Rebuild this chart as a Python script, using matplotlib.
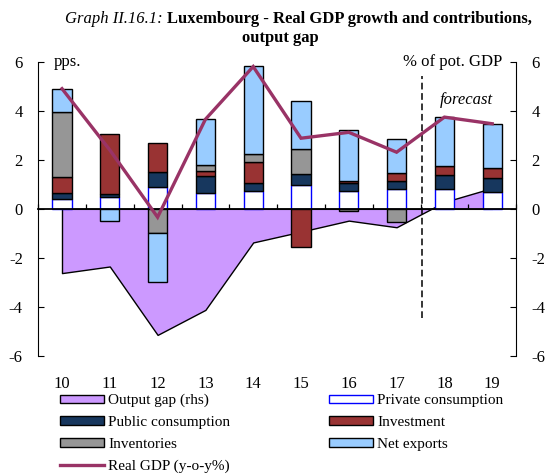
import matplotlib
matplotlib.use("Agg")
import matplotlib.pyplot as plt
import numpy as np
from matplotlib.patches import Patch
from matplotlib.lines import Line2D
from matplotlib.transforms import IdentityTransform, blended_transform_factory

plt.rcParams["font.family"] = ["Liberation Serif", "DejaVu Serif"]
plt.rcParams["axes.unicode_minus"] = False

# Contributions to real GDP growth (pps.) and output gap (% of potential GDP)
years = ["10", "11", "12", "13", "14", "15", "16", "17", "18", "19"]
private_consumption = [0.39, 0.48, 0.91, 0.64, 0.72, 0.98, 0.71, 0.80, 0.80, 0.68]
public_consumption = [0.25, 0.13, 0.59, 0.68, 0.35, 0.45, 0.34, 0.33, 0.56, 0.57]
investment = [0.65, 2.46, 1.18, 0.24, 0.83, -1.54, 0.09, 0.33, 0.38, 0.41]
inventories = [2.64, 0.0, -0.98, 0.22, 0.33, 1.02, -0.07, -0.54, 0.0, 0.0]
net_exports = [0.97, -0.50, -2.02, 1.89, 3.58, 1.96, 2.06, 1.40, 2.00, 1.81]
real_gdp = [4.90, 2.40, -0.34, 3.65, 5.80, 2.88, 3.12, 2.31, 3.74, 3.47]
output_gap = [-2.62, -2.35, -5.14, -4.12, -1.37, -0.93, -0.48, -0.75, 0.28, 0.85]
y_ticks = [-6, -4, -2, 0, 2, 4, 6]
forecast_start = 7.53

W, H = 550, 474
fig = plt.figure(figsize=(W / 100, H / 100), dpi=100)
ax = fig.add_axes([38.1 / W, 1 - 356 / H, 478 / W, 294.3 / H])

x = np.arange(len(years))

# Output gap area (right-hand scale shares the same range)
ax.fill_between(x, output_gap, 0, facecolor="#CC99FF", edgecolor="black",
                linewidth=1.0, zorder=1)

components = [
    (private_consumption, "white", "#0000FF", "Private consumption"),
    (public_consumption, "#17375E", "black", "Public consumption"),
    (investment, "#993333", "black", "Investment"),
    (inventories, "#969696", "black", "Inventories"),
    (net_exports, "#99CCFF", "black", "Net exports"),
]
pos_base = np.zeros(len(x))
neg_base = np.zeros(len(x))
for vals, fc, ec, _ in components:
    v = np.asarray(vals, dtype=float)
    base = np.where(v >= 0, pos_base, neg_base)
    keep = v != 0
    ax.bar(x[keep], v[keep], width=0.4, bottom=base[keep], color=fc,
           edgecolor=ec, linewidth=1.0, zorder=2)
    pos_base += np.clip(v, 0, None)
    neg_base += np.clip(v, None, 0)

ax.plot(x, real_gdp, color="#993366", linewidth=2.4, zorder=4,
        solid_joinstyle="miter")
ax.plot([forecast_start, forecast_start], [-4.45, 5.4], color="black",
        linewidth=1.1, dashes=(4.4, 2.4), zorder=3)

ax.set_xlim(-0.5, 9.5)
ax.set_ylim(-6, 6)

# Horizontal axis runs along zero, with ticks between the years
ax.spines["bottom"].set_position(("data", 0))
ax.spines["bottom"].set_linewidth(1.3)
ax.spines["bottom"].set_zorder(3)
ax.set_xticks(np.arange(len(x) + 1) - 0.5)
ax.set_xticklabels([])
ax.tick_params(axis="x", direction="in", length=3.6, width=0.9)
ax.xaxis.set_zorder(3.5)
lab_tr = blended_transform_factory(ax.transData, ax.transAxes)
for xi, yr in zip(x, years):
    ax.text(xi, -0.068, yr, transform=lab_tr, ha="center", va="top",
            fontsize=12)

ax.set_yticks(y_ticks)
ax.tick_params(axis="y", direction="in", length=4, pad=11, labelsize=12,
               width=0.8)
for s in ["top", "right"]:
    ax.spines[s].set_visible(False)
ax.spines["left"].set_linewidth(0.8)

ax2 = ax.twinx()
ax2.set_ylim(-6, 6)
ax2.set_yticks(y_ticks)
ax2.tick_params(axis="y", direction="in", length=4, pad=11, labelsize=12,
                width=0.8)
for s in ["top", "bottom", "left"]:
    ax2.spines[s].set_visible(False)
ax2.spines["right"].set_linewidth(0.8)

ax.text(0.032, 1.025, "pps.", transform=ax.transAxes, ha="left", va="top",
        fontsize=12)
ax.text(0.972, 1.025, "% of pot. GDP", transform=ax.transAxes, ha="right",
        va="top", fontsize=12)
ax.text(8.45, 4.45, "forecast", ha="center", va="center", fontsize=12,
        style="italic")

# Title: italic label followed by bold heading
ident = IdentityTransform()
renderer = fig.canvas.get_renderer()
t1 = fig.text(65, H - 23, "Graph II.16.1: ", transform=ident, fontsize=12,
              style="italic", va="baseline", ha="left")
w1 = t1.get_window_extent(renderer).width
fig.text(65 + w1, H - 23, "Luxembourg - Real GDP growth and contributions,",
         transform=ident, fontsize=12, fontweight="bold", va="baseline",
         ha="left")
fig.text(280, H - 42, "output gap", transform=ident, fontsize=12,
         fontweight="bold", va="baseline", ha="center")

handles = [
    Patch(facecolor="#CC99FF", edgecolor="black", linewidth=1.0),
    Patch(facecolor="#17375E", edgecolor="black", linewidth=1.0),
    Patch(facecolor="#969696", edgecolor="black", linewidth=1.0),
    Line2D([], [], color="#993366", linewidth=2.4),
    Patch(facecolor="white", edgecolor="#0000FF", linewidth=1.0),
    Patch(facecolor="#993333", edgecolor="black", linewidth=1.0),
    Patch(facecolor="#99CCFF", edgecolor="black", linewidth=1.0),
]
labels = ["Output gap (rhs)", "Public consumption", "Inventories",
          "Real GDP (y-o-y%)", "Private consumption", "Investment",
          "Net exports"]
fig.legend(handles, labels, loc="upper left",
           bbox_to_anchor=(60 / W, 1 - 394 / H), ncol=2, frameon=False,
           fontsize=11, handlelength=2.9, handleheight=0.5,
           handletextpad=0.25, labelspacing=0.57, columnspacing=6.45,
           borderpad=0, borderaxespad=0)

fig.savefig("out.png", dpi=100)
